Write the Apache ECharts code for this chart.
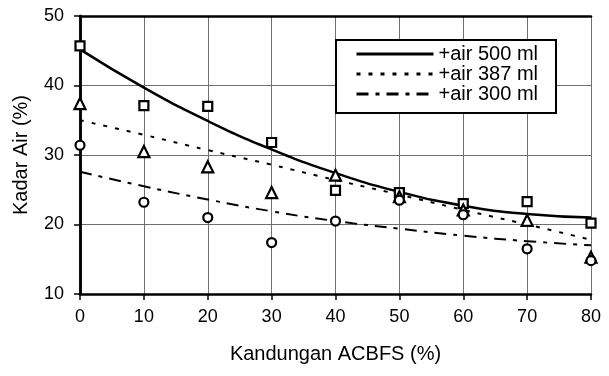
<!DOCTYPE html>
<html>
<head>
<meta charset="utf-8">
<script src="https://cdn.jsdelivr.net/npm/echarts@6/dist/echarts.min.js"></script>
<style>
	html, body { margin: 0; padding: 0; background: #fff; }
	#box { width: 609px; height: 376px; }
</style>
</head>
<body>
<div id="box"></div>
<script>
	// x kandungan ACBFS
	var xVals = [0, 10, 20, 30, 40, 50, 60, 70, 80];

	// titik pengamatan
	var obs500 = [45.7, 37.1, 37.0, 31.8, 24.9, 24.6, 23.0, 23.3, 20.2];
	var obs387 = [37.4, 30.5, 28.3, 24.6, 27.1, 24.0, 22.1, 20.6, 15.3];
	var obs300 = [31.4, 23.2, 21.0, 17.4, 20.5, 23.5, 21.4, 16.5, 14.8];

	// garis trend
	var trend500 = [45.2, 39.7, 34.9, 30.8, 27.4, 24.7, 22.7, 21.5, 21.0];
	var trend387 = [35.0, 32.9, 30.7, 28.6, 26.4, 24.3, 22.1, 20.0, 17.8];
	var trend300 = [27.6, 25.5, 23.6, 21.9, 20.5, 19.4, 18.4, 17.6, 17.0];

	var legendNames = ['+air 500 ml', '+air 387 ml', '+air 300 ml'];

	function pairs(ys) {
		var out = [];
		for (var i = 0; i < xVals.length; i++) {
			out.push([xVals[i], ys[i]]);
		}
		return out;
	}

	var font = 'Liberation Sans, Arial, sans-serif';

	function scatter(ys, symbol, size) {
		return {
			type: 'scatter',
			data: pairs(ys),
			symbol: symbol,
			symbolSize: size,
			itemStyle: { color: '#fff', borderColor: '#000', borderWidth: 2.2, opacity: 1 },
			z: 5
		};
	}

	function trend(name, ys, dash, width) {
		return {
			name: name,
			type: 'line',
			data: pairs(ys),
			smooth: true,
			symbol: 'none',
			itemStyle: { color: '#000' },
			lineStyle: { color: '#000', width: width, type: dash },
			z: 4
		};
	}

	var myChart = echarts.init(document.getElementById('box'));

	var option = {
		animation: false,
		backgroundColor: '#fff',
		grid: { left: 80, right: 18, top: 16, bottom: 82 },
		legend: {
			data: legendNames,
			orient: 'vertical',
			left: 336,
			top: 40,
			itemWidth: 77,
			itemHeight: 14,
			itemGap: 0,
			padding: [4, 18, 9, 19],
			borderColor: '#000',
			borderWidth: 2,
			backgroundColor: '#fff',
			itemStyle: { opacity: 0 },
			lineStyle: { width: 3 },
			textStyle: { fontFamily: font, fontSize: 20, color: '#000' },
			z: 10
		},
		xAxis: [{
			type: 'value',
			min: 0,
			max: 80,
			interval: 10,
			name: 'Kandungan ACBFS (%)',
			nameLocation: 'middle',
			nameGap: 50,
			nameTextStyle: { fontFamily: font, fontSize: 20, color: '#000' },
			axisLine: { show: true, onZero: false, lineStyle: { color: '#000', width: 2.5 } },
			axisTick: { show: true, length: 6, lineStyle: { color: '#000', width: 1.5 } },
			axisLabel: { fontFamily: font, fontSize: 18, color: '#000', margin: 14 },
			splitLine: { show: true, lineStyle: { color: '#707070', width: 1 } }
		}, {
			type: 'value',
			position: 'top',
			min: 0,
			max: 80,
			axisLine: { show: true, lineStyle: { color: '#000', width: 2.5 } },
			axisTick: { show: false },
			axisLabel: { show: false },
			splitLine: { show: false }
		}],
		yAxis: [{
			type: 'value',
			min: 10,
			max: 50,
			interval: 10,
			name: 'Kadar Air (%)',
			nameLocation: 'middle',
			nameGap: 49,
			nameTextStyle: { fontFamily: font, fontSize: 20, color: '#000' },
			axisLine: { show: true, onZero: false, lineStyle: { color: '#000', width: 2.5 } },
			axisTick: { show: true, length: 6, lineStyle: { color: '#000', width: 1.5 } },
			axisLabel: { fontFamily: font, fontSize: 18, color: '#000', margin: 16 },
			splitLine: { show: true, lineStyle: { color: '#707070', width: 1 } }
		}, {
			type: 'value',
			position: 'right',
			min: 10,
			max: 50,
			axisLine: { show: true, lineStyle: { color: '#000', width: 2.5 } },
			axisTick: { show: false },
			axisLabel: { show: false },
			splitLine: { show: false }
		}],
		series: [
			trend(legendNames[0], trend500, 'solid', 2.5),
			trend(legendNames[1], trend387, [4, 8], 2),
			trend(legendNames[2], trend300, [12, 7, 4, 7], 2),
			scatter(obs500, 'rect', 9),
			scatter(obs387, 'triangle', 11),
			scatter(obs300, 'circle', 9)
		]
	};

	myChart.setOption(option);
</script>
</body>
</html>
